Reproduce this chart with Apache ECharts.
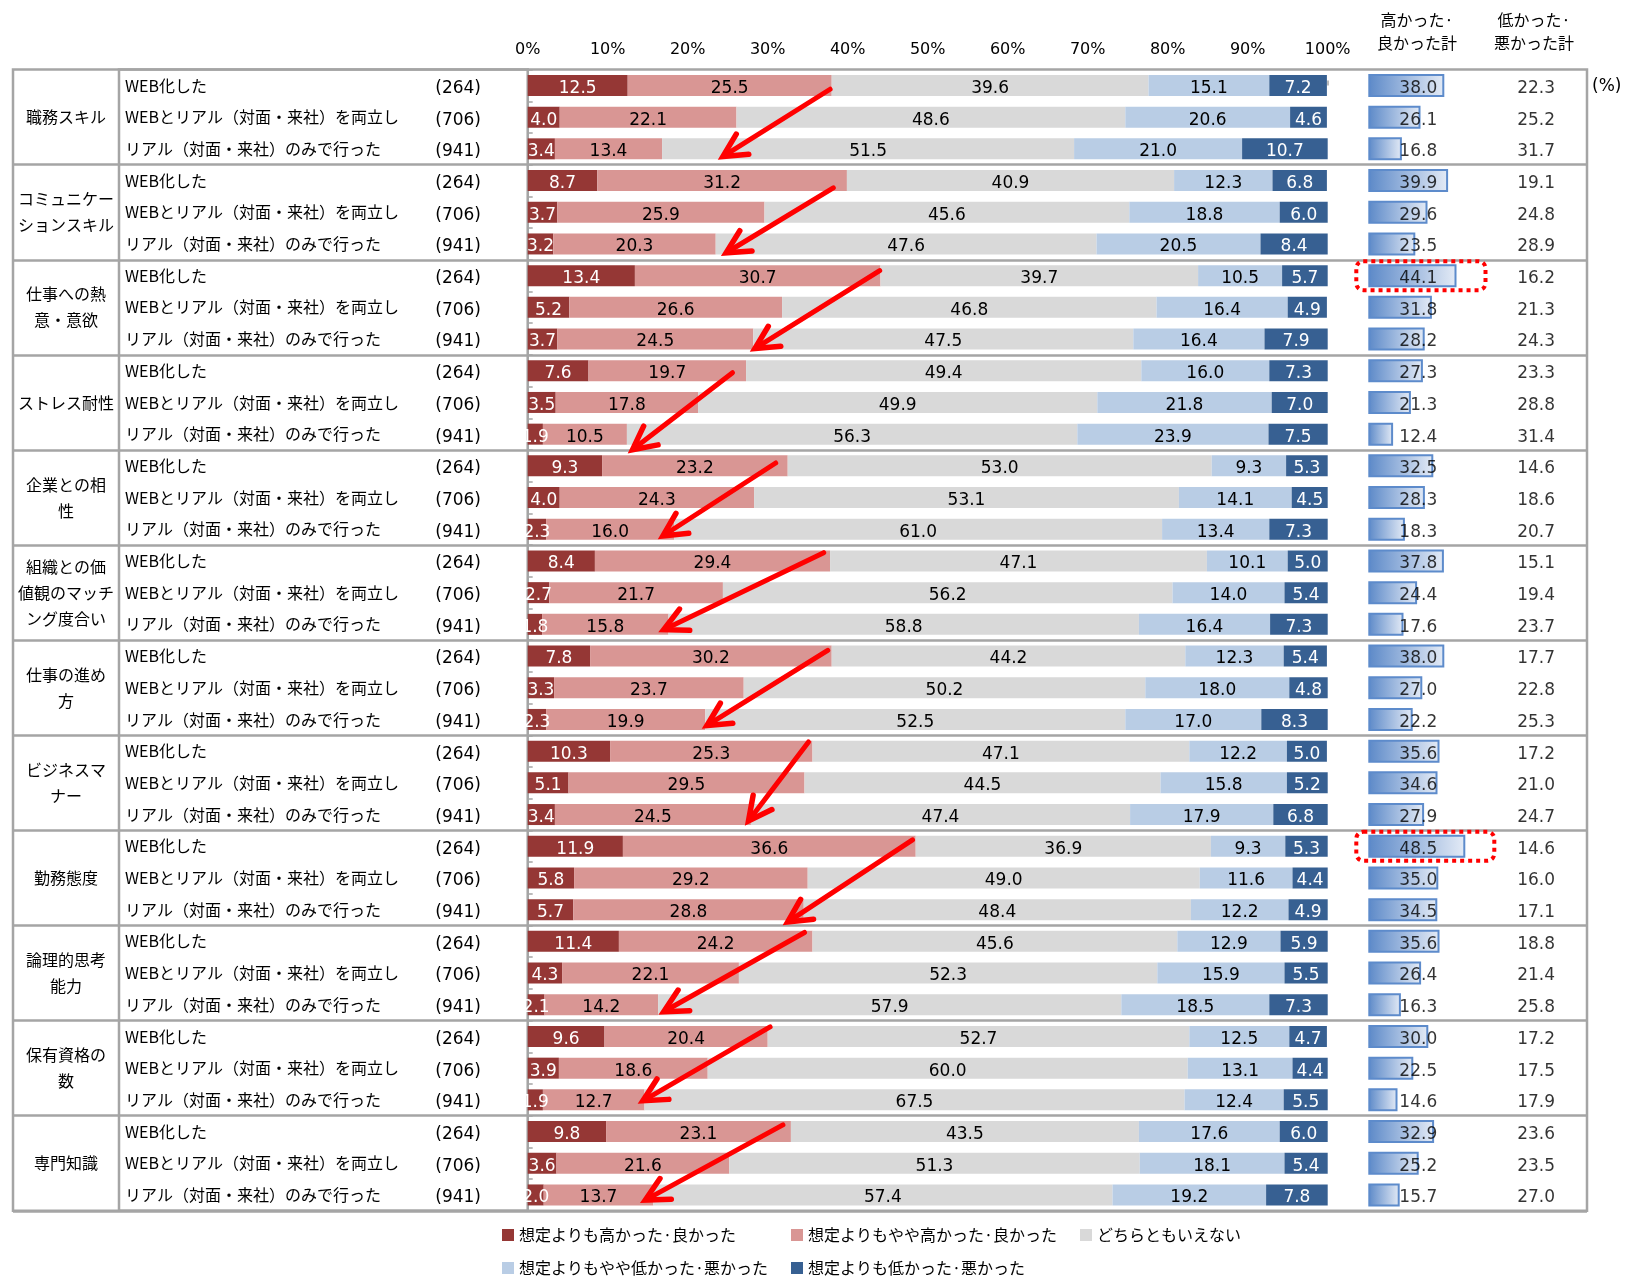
<!DOCTYPE html>
<html><head><meta charset="utf-8">
<script src="https://cdn.jsdelivr.net/npm/echarts@6/dist/echarts.min.js"></script>
<style>html,body{margin:0;padding:0;background:#fff}#c{width:1632px;height:1279px}</style>
</head><body><div id="c"></div>
<script>
// ---------------- data ----------------
const groupNames = ['職務スキル','コミュニケー\nションスキル','仕事への熱\n意・意欲','ストレス耐性','企業との相\n性','組織との価\n値観のマッチ\nング度合い','仕事の進め\n方','ビジネスマ\nナー','勤務態度','論理的思考\n能力','保有資格の\n数','専門知識'];
const rowTypes = ['WEB化した','WEBとリアル（対面・来社）を両立した','リアル（対面・来社）のみで行った'];
const rowN = ['(264)','(706)','(941)'];
const seriesNames = ['想定よりも高かった·良かった','想定よりもやや高かった·良かった','どちらともいえない','想定よりもやや低かった·悪かった','想定よりも低かった·悪かった'];
const xTicks = [0,10,20,30,40,50,60,70,80,90,100];

const muchHigher = [12.5,4.0,3.4, 8.7,3.7,3.2, 13.4,5.2,3.7, 7.6,3.5,1.9, 9.3,4.0,2.3, 8.4,2.7,1.8, 7.8,3.3,2.3, 10.3,5.1,3.4, 11.9,5.8,5.7, 11.4,4.3,2.1, 9.6,3.9,1.9, 9.8,3.6,2.0];
const slightlyHigher = [25.5,22.1,13.4, 31.2,25.9,20.3, 30.7,26.6,24.5, 19.7,17.8,10.5, 23.2,24.3,16.0, 29.4,21.7,15.8, 30.2,23.7,19.9, 25.3,29.5,24.5, 36.6,29.2,28.8, 24.2,22.1,14.2, 20.4,18.6,12.7, 23.1,21.6,13.7];
const neutral = [39.6,48.6,51.5, 40.9,45.6,47.6, 39.7,46.8,47.5, 49.4,49.9,56.3, 53.0,53.1,61.0, 47.1,56.2,58.8, 44.2,50.2,52.5, 47.1,44.5,47.4, 36.9,49.0,48.4, 45.6,52.3,57.9, 52.7,60.0,67.5, 43.5,51.3,57.4];
const slightlyLower = [15.1,20.6,21.0, 12.3,18.8,20.5, 10.5,16.4,16.4, 16.0,21.8,23.9, 9.3,14.1,13.4, 10.1,14.0,16.4, 12.3,18.0,17.0, 12.2,15.8,17.9, 9.3,11.6,12.2, 12.9,15.9,18.5, 12.5,13.1,12.4, 17.6,18.1,19.2];
const muchLower = [7.2,4.6,10.7, 6.8,6.0,8.4, 5.7,4.9,7.9, 7.3,7.0,7.5, 5.3,4.5,7.3, 5.0,5.4,7.3, 5.4,4.8,8.3, 5.0,5.2,6.8, 5.3,4.4,4.9, 5.9,5.5,7.3, 4.7,4.4,5.5, 6.0,5.4,7.8];
const highTotal = [38.0,26.1,16.8, 39.9,29.6,23.5, 44.1,31.8,28.2, 27.3,21.3,12.4, 32.5,28.3,18.3, 37.8,24.4,17.6, 38.0,27.0,22.2, 35.6,34.6,27.9, 48.5,35.0,34.5, 35.6,26.4,16.3, 30.0,22.5,14.6, 32.9,25.2,15.7];
const lowTotal = [22.3,25.2,31.7, 19.1,24.8,28.9, 16.2,21.3,24.3, 23.3,28.8,31.4, 14.6,18.6,20.7, 15.1,19.4,23.7, 17.7,22.8,25.3, 17.2,21.0,24.7, 14.6,16.0,17.1, 18.8,21.4,25.8, 17.2,17.5,17.9, 23.6,23.5,27.0];
// annotation arrows: [start %, start row, end %, end row]
const arrowAnnotations = [[37.8,0.12,24.4,2.24],[38.2,3.23,24.8,5.28],[44.0,5.84,28.4,8.30],[25.6,9.06,13.1,11.49],[31.0,11.91,16.9,14.21],[37.0,14.74,17.0,17.17],[37.5,17.82,22.4,20.19],[35.1,20.71,27.6,23.2],[48.1,23.8,32.5,26.39],[34.6,26.72,17.0,29.22],[30.3,29.7,14.4,32.03],[31.9,32.79,14.7,35.16]];
const highlightRows = [6, 24];

// ---------------- layout / style ----------------
const JP = '"Noto Sans CJK JP", sans-serif';
const NUM = '"DejaVu Sans", sans-serif';
const GRAY = '#a5a5a5';
const TOP = 69.6, ROW_H = 31.7, NROWS = 36, H = ROW_H * NROWS;
const MAIN_L = 527.7, MAIN_W = 800;
const HI_L = 1368.3, HI_W = 200;
const TABLE_L = 13, TABLE_R = 1587, DIV_X = 119;
const colors = ['#953735','#d99694','#d9d9d9','#b9cde5','#376092'];
const labelColors = ['#fff','#000','#000','#000','#fff'];
const HIGH_LABEL_X = 25, LOW_LABEL_X = 83.9;
const legendPos = [[502, 1227], [791, 1227], [1080, 1227], [502, 1260], [791, 1260]];

const rowIds = Array.from({length: NROWS}, (_, i) => 'r' + i);
const rowLabels = rowIds.map((_, i) => rowTypes[i % 3]);
const nLabels = rowIds.map((_, i) => rowN[i % 3]);
const groupLabels = rowIds.map((_, i) => (i % 3 === 1 ? groupNames[(i - 1) / 3] : ''));
const values = [muchHigher, slightlyHigher, neutral, slightlyLower, muchLower];

const catAxisBase = (gridIndex) => ({
  type: 'category', gridIndex, data: rowIds, inverse: true, position: 'left',
  axisLine: {show: false}, axisTick: {show: false}, axisLabel: {show: false}, splitLine: {show: false}
});
const gridBase = {outerBoundsMode: 'none', containLabel: false};

const option = {
  animation: false,
  backgroundColor: '#fff',
  textStyle: {fontFamily: JP, color: '#000'},
  title: [
    {text: '高かった·\n良かった計', left: 1417, top: 8.5, textAlign: 'center', padding: 0,
     textStyle: {fontFamily: JP, fontSize: 16, fontWeight: 'normal', lineHeight: 23, color: '#000'}},
    {text: '低かった·\n悪かった計', left: 1534, top: 8.5, textAlign: 'center', padding: 0,
     textStyle: {fontFamily: JP, fontSize: 16, fontWeight: 'normal', lineHeight: 23, color: '#000'}},
    {text: '(%)', left: 1592, top: 78, padding: 0,
     textStyle: {fontFamily: NUM, fontSize: 17, fontWeight: 'normal', color: '#000'}}
  ],
  legend: seriesNames.map((name, k) => ({
    data: [name], left: legendPos[k][0], top: legendPos[k][1], padding: 0, itemWidth: 12, itemHeight: 12,
    icon: 'rect', selectedMode: false, textStyle: {fontFamily: JP, fontSize: 16, color: '#000'}
  })),
  grid: [
    Object.assign({left: MAIN_L, top: TOP, width: MAIN_W, height: H}, gridBase),
    Object.assign({left: HI_L, top: TOP, width: HI_W, height: H}, gridBase),
    Object.assign({left: TABLE_L, top: TOP, width: TABLE_R - TABLE_L, height: H, show: true, borderColor: GRAY, borderWidth: 2.5, backgroundColor: 'transparent', z: 0}, gridBase),
    Object.assign({left: DIV_X, top: TOP, width: MAIN_L - DIV_X, height: H, show: true, borderColor: GRAY, borderWidth: 2.5, backgroundColor: 'transparent', z: 0}, gridBase)
  ],
  xAxis: [
    {type: 'value', gridIndex: 0, position: 'top', min: 0, max: 100, interval: 10,
     axisLine: {show: false},
     axisTick: {show: true, length: 5, lineStyle: {color: GRAY, width: 1.5}},
     axisLabel: {margin: 12, formatter: (v) => (xTicks.includes(v) ? v + '%' : ''), fontFamily: NUM, fontSize: 16, color: '#000'},
     splitLine: {show: false}},
    {type: 'value', gridIndex: 1, min: 0, max: 100, show: false},
    {type: 'value', gridIndex: 2, min: 0, max: 1, show: false},
    {type: 'value', gridIndex: 3, min: 0, max: 1, show: false}
  ],
  yAxis: [
    Object.assign(catAxisBase(0), {
      axisLine: {show: true, lineStyle: {color: GRAY, width: 2}},
      axisTick: {show: true, inside: true, length: 5, interval: 0, lineStyle: {color: GRAY, width: 1.5}},
      axisLabel: {show: true, interval: 0, align: 'left', margin: MAIN_L - 125, width: 286, overflow: 'truncate', ellipsis: '',
        fontFamily: JP, fontSize: 16, color: '#000', formatter: (v, i) => rowLabels[i]}
    }),
    Object.assign(catAxisBase(0), {
      axisLabel: {show: true, interval: 0, align: 'right', margin: MAIN_L - 481, color: '#000',
        formatter: (v, i) => '{n|' + nLabels[i] + '}',
        rich: {n: {fontFamily: NUM, fontSize: 17, color: '#000', padding: [6, 0, 0, 0]}}}
    }),
    Object.assign(catAxisBase(0), {
      axisLabel: {show: true, interval: 0, align: 'center', margin: MAIN_L - 66, fontFamily: JP, fontSize: 16, lineHeight: 26, color: '#000',
        formatter: (v, i) => groupLabels[i]}
    }),
    {type: 'value', gridIndex: 0, min: -0.5, max: NROWS - 0.5, inverse: true, show: false, position: 'left'},
    catAxisBase(1),
    {type: 'value', gridIndex: 1, min: -0.5, max: NROWS - 0.5, inverse: true, show: false, position: 'left'},
    Object.assign(catAxisBase(2), {
      splitLine: {show: true, interval: (i) => i > 0 && i % 3 === 0, lineStyle: {color: GRAY, width: 2.5}}
    }),
    catAxisBase(3)
  ],
  series: [
    ...values.map((arr, k) => ({
      type: 'bar', name: seriesNames[k], stack: 'all', xAxisIndex: 0, yAxisIndex: 0,
      data: arr, barWidth: 21, itemStyle: {color: colors[k]},
      label: {show: true, position: 'inside', offset: [0, 3], fontFamily: NUM, fontSize: 17, color: labelColors[k],
        formatter: (p) => p.value.toFixed(1)},
      z: 3
    })),
    {type: 'bar', name: 'high', xAxisIndex: 1, yAxisIndex: 4, data: highTotal, barWidth: 23,
     itemStyle: {
       color: new echarts.graphic.LinearGradient(0, 0, 1, 0, [{offset: 0, color: '#5c89c8'}, {offset: 1, color: '#e4ebf6'}]),
       borderColor: '#5d8bcb', borderWidth: 2
     }, z: 3},
    {type: 'scatter', xAxisIndex: 1, yAxisIndex: 4, symbol: 'rect', symbolSize: 1, itemStyle: {color: 'rgba(0,0,0,0)'},
     data: highTotal.map((v, i) => [HIGH_LABEL_X, i, v]),
     label: {show: true, position: 'inside', offset: [0, 3], fontFamily: NUM, fontSize: 17, color: '#000', formatter: (p) => p.value[2].toFixed(1)},
     z: 5},
    {type: 'scatter', xAxisIndex: 1, yAxisIndex: 4, symbol: 'rect', symbolSize: 1, itemStyle: {color: 'rgba(0,0,0,0)'},
     data: lowTotal.map((v, i) => [LOW_LABEL_X, i, v]),
     label: {show: true, position: 'inside', offset: [0, 3], fontFamily: NUM, fontSize: 17, color: '#000', formatter: (p) => p.value[2].toFixed(1)},
     z: 5},
    {type: 'custom', xAxisIndex: 1, yAxisIndex: 5, z: 6, clip: false,
     data: highlightRows.map((r) => [highTotal[r], r]),
     encode: {x: 0, y: 1},
     renderItem: (params, api) => {
       const p0 = api.coord([0, api.value(1)]);
       const p1 = api.coord([api.value(0), api.value(1)]);
       const x = p0[0] - 12, w = (p1[0] + 29) - x, h = 29;
       return {type: 'rect', shape: {x: x, y: p0[1] - h / 2, width: w, height: h, r: 7},
         style: {fill: null, stroke: '#ff0000', lineWidth: 4, lineDash: [4, 4], lineCap: 'butt'}};
     }},
    {type: 'custom', xAxisIndex: 0, yAxisIndex: 3, z: 7, clip: false,
     data: arrowAnnotations,
     encode: {x: [0, 2], y: [1, 3]},
     renderItem: (params, api) => {
       const p1 = api.coord([api.value(0), api.value(1)]);
       const p2 = api.coord([api.value(2), api.value(3)]);
       const dx = p1[0] - p2[0], dy = p1[1] - p2[1];
       const L = Math.hypot(dx, dy); const ux = dx / L, uy = dy / L;
       const a = 27 * Math.PI / 180, len = 26;
       const rot = (ang) => [p2[0] + len * (ux * Math.cos(ang) - uy * Math.sin(ang)), p2[1] + len * (ux * Math.sin(ang) + uy * Math.cos(ang))];
       return {type: 'group', children: [
         {type: 'line', shape: {x1: p1[0], y1: p1[1], x2: p2[0] + ux * 4, y2: p2[1] + uy * 4},
          style: {stroke: '#ff0000', lineWidth: 5, lineCap: 'round'}},
         {type: 'polyline', shape: {points: [rot(a), p2, rot(-a)]},
          style: {stroke: '#ff0000', fill: null, lineWidth: 5.5, lineJoin: 'miter', lineCap: 'round'}}
       ]};
     }}
  ]
};

const chart = echarts.init(document.getElementById('c'), null, {renderer: 'canvas'});
chart.setOption(option);
</script>
</body></html>
